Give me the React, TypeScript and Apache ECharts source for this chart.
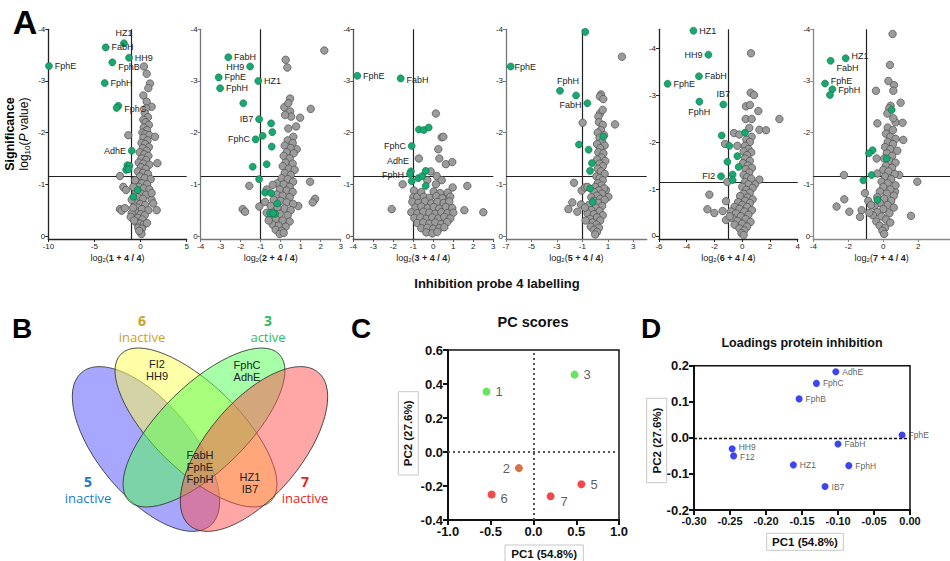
import React, { useEffect, useRef } from "react";
import * as echarts from "echarts";

const FONT = "'Liberation Sans', Arial, sans-serif";

// ---------- Panel A data (log2 ratio, log10 P) ----------
const probes = ["1", "2", "3", "5", "6", "7"];
const thresholds = [-1.15, -1.15, -1.15, -1.16, -1.15, -1.15];
const cutoffX = -1;

const xTicks1 = [-10, -5, 0, 5];
const xTicks2 = [-4, -3, -2, -1, 0, 1, 2, 3];
const xTicks3 = [-4, -3, -2, -1, 0, 1, 2, 3];
const xTicks4 = [-7, -5, -3, -1, 1, 3];
const xTicks5 = [-6, -4, -2, 0, 2, 4];
const xTicks6 = [-4, -2, 0, 2];
const yTicks = [-4, -3, -2, -1, 0];

const gray1 = [
  [0.37,-3.28],[0.66,-3.14],[1.02,-2.95],[0.84,-2.86],[0.3,-2.72],[0.66,-2.6],[1.2,-2.5],[0.6,-2.47],[0.45,-2.38],[0.8,-2.3],[0.3,-2.25],[0.55,-2.2],[0.9,-2.15],[0.35,-2.1],[0.7,-2.05],[0.2,-2.0],[0.5,-1.97],[0.95,-1.95],[0.3,-1.9],[0.75,-1.85],[0.1,-1.8],[0.5,-1.78],[0.9,-1.72],[0.25,-1.7],[0.65,-1.65],[-0.1,-1.62],[0.4,-1.58],[0.85,-1.55],[0.1,-1.5],[0.6,-1.47],[-0.2,-1.42],[0.3,-1.4],[0.95,-1.38],[0.05,-1.33],[0.55,-1.3],[-0.3,-1.25],[0.25,-1.22],[0.8,-1.2],[-0.05,-1.15],[0.45,-1.12],[1.1,-1.1],[-0.4,-1.05],[0.15,-1.02],[0.7,-1.0],[-0.2,-0.95],[0.35,-0.92],[0.95,-0.9],[-0.5,-0.85],[0.05,-0.82],[0.6,-0.8],[-0.3,-0.75],[0.25,-0.72],[1.2,-0.7],[-0.6,-0.65],[-0.05,-0.62],[0.5,-0.6],[-0.35,-0.55],[0.15,-0.52],[0.85,-0.5],[-0.55,-0.45],[0.0,-0.42],[0.45,-0.4],[-0.3,-0.35],[0.2,-0.32],[-0.45,-0.26],[-0.1,-0.24],[0.35,-0.22],[-0.25,-0.16],[0.15,-0.14],[-0.05,-0.08],[0.1,-0.04],[-0.15,-0.1],
  [-1.33,-1.95],[1.56,-1.92],[1.82,-1.41],[-2.23,-1.16],[-1.87,-0.95],[-1.57,-0.89],[-2.23,-0.52],[-2.05,-0.49],[-1.7,-0.54],[-0.96,-0.7],[-0.78,-0.95],[-0.6,-1.08],[1.75,-0.5],[1.38,-0.63],[1.2,-0.83],[-0.96,-0.44],[-1.07,-0.37],[-0.7,-0.3],[0.7,-0.25],[-0.8,-0.55]
];
const hits1: [number, number, string][] = [
  [-9.93,-3.29,"FphE"],[-3.78,-3.65,"FabH"],[-1.8,-3.73,"HZ1"],[-1.25,-3.45,"HH9"],[-3.06,-3.36,"FphB"],[-3.89,-2.96,"FphH"],[-2.41,-2.52,"FphC"],[-2.59,-2.48,""],[-0.96,-1.65,"AdhE"],[-1.43,-1.37,""],[-1.2,-1.36,""],[-1.57,-1.28,""],[-1.3,-1.29,""],[-0.31,-0.89,""],[-0.78,-0.76,""]
];

const gray2 = [
  [2.18,-3.59],[0.25,-3.41],[0.33,-3.26],[0.47,-2.66],[0.18,-2.49],[0.38,-2.57],[1.5,-2.46],[0.97,-2.29],[0.77,-2.12],[0.47,-2.41],[0.52,-2.31],[0.22,-2.34],[0.38,-2.08],[0.63,-1.92],[0.8,-1.68],[1.47,-1.05],[1.72,-0.72],[1.6,-0.65],[0.88,-0.58],[-1.57,-0.97],[-1.9,-0.52],[-1.78,-0.47],[-1.07,-0.57],[-0.7,-0.9],[-0.17,-1.02],[-0.4,-0.99],[-0.78,-0.66],
  [0.35,-1.85],[0.6,-1.8],[0.2,-1.75],[0.5,-1.7],[0.3,-1.62],[0.65,-1.6],[0.15,-1.55],[0.45,-1.5],[0.25,-1.42],[0.6,-1.4],[0.1,-1.35],[0.4,-1.3],[0.7,-1.28],[0.2,-1.22],[0.5,-1.18],[0.05,-1.12],[0.35,-1.1],[0.62,-1.05],[0.15,-1.0],[0.45,-0.95],[-0.05,-0.9],[0.3,-0.88],[0.6,-0.85],[-0.2,-0.8],[0.1,-0.78],[0.45,-0.75],[-0.35,-0.7],[0.0,-0.68],[0.3,-0.65],[0.62,-0.62],[-0.5,-0.58],[-0.15,-0.55],[0.2,-0.53],[0.5,-0.5],[-0.4,-0.45],[-0.05,-0.43],[0.35,-0.4],[-0.55,-0.35],[-0.25,-0.33],[0.1,-0.3],[0.45,-0.28],[-0.4,-0.22],[-0.1,-0.2],[0.25,-0.18],[-0.25,-0.12],[0.05,-0.1],[-0.05,-0.04],[0.15,-0.06],[-0.6,-0.3],[-0.7,-0.45]
];
const hits2: [number, number, string][] = [
  [-2.62,-3.46,"FabH"],[-1.53,-3.28,"HH9"],[-3.1,-3.07,"FphE"],[-1.12,-3.0,"HZ1"],[-3.03,-2.86,"FphH"],[-1.87,-2.57,""],[-1.08,-2.26,"IB7"],[-0.48,-2.18,""],[-0.42,-2.01,""],[-0.9,-1.94,""],[-1.25,-1.87,"FphC"],[-0.45,-1.73,""],[-0.7,-1.39,""],[-1.4,-1.34,""],[-1.08,-1.1,""],[-0.78,-0.84,""],[-0.48,-0.83,""],[-0.17,-0.63,""],[-0.53,-0.44,""],[-0.28,-0.43,""],[-0.37,-0.44,""]
];

const gray3 = [
  [0.13,-2.37],[0.42,-1.91],[0.5,-1.92],[0.25,-1.68],[0.3,-1.5],[-0.72,-1.5],[0.63,-1.39],[0.95,-1.43],[-0.13,-1.25],[0.17,-1.16],[-1.53,-1.0],[1.7,-0.97],[1.55,-0.5],[2.5,-0.46],[-2.08,-0.52],[0.42,-1.08],[0.97,-0.94],[0.72,-0.79],[-0.97,-0.88],[-1.0,-0.75],[-0.8,-0.76],[-0.3,-1.08],[0.13,-1.0],
  [-0.6,-0.85],[0.02,-0.86],[0.35,-0.83],[0.72,-0.84],[-0.48,-0.76],[-0.18,-0.74],[0.15,-0.77],[0.45,-0.73],[0.85,-0.76],[-1.05,-0.66],[-0.74,-0.64],[-0.42,-0.67],[-0.1,-0.63],[0.2,-0.66],[0.52,-0.64],[0.8,-0.67],[-0.9,-0.55],[-0.6,-0.57],[-0.28,-0.54],[0.02,-0.56],[0.3,-0.53],[0.62,-0.56],[0.95,-0.54],[-1.1,-0.46],[-0.8,-0.44],[-0.5,-0.47],[-0.2,-0.45],[0.1,-0.43],[0.4,-0.46],[0.7,-0.44],[1.0,-0.45],[-0.95,-0.35],[-0.65,-0.36],[-0.35,-0.33],[-0.05,-0.36],[0.25,-0.34],[0.55,-0.37],[0.85,-0.34],[-0.8,-0.25],[-0.5,-0.26],[-0.2,-0.24],[0.1,-0.26],[0.4,-0.23],[0.7,-0.27],[-0.6,-0.15],[-0.3,-0.16],[0.0,-0.14],[0.3,-0.15],[0.55,-0.17],[-0.35,-0.07],[-0.05,-0.05],[0.2,-0.08]
];
const hits3: [number, number, string][] = [
  [-3.8,-3.1,"FphE"],[-1.63,-3.05,"FabH"],[-0.72,-2.06,""],[-0.47,-2.05,""],[-0.23,-2.1,""],[-1.08,-1.74,"FphC"],[-1.12,-1.25,"AdhE"],[-1.17,-1.2,"FphH"],[-1.08,-1.06,""],[-0.75,-1.12,""],[-0.55,-1.16,""],[-0.38,-1.26,""],[-0.38,-0.97,""]
];

const gray4 = [
  [2.11,-3.47],[0.46,-2.74],[0.38,-2.7],[0.64,-2.65],[1.56,-2.16],[-0.98,-2.19],[0.38,-2.37],[0.59,-2.44],[0.25,-2.31],[-1.66,-1.03],[-1.79,-0.65],[-2.1,-0.52],[-1.4,-0.47],[-1.11,-0.61],[-1.06,-0.88],[-0.8,-0.94],[-0.61,-0.95],[1.04,-0.76],[0.85,-0.89],
  [0.3,-2.2],[0.6,-2.15],[0.45,-2.05],[0.2,-2.0],[0.7,-1.95],[0.35,-1.9],[0.55,-1.82],[0.15,-1.78],[0.75,-1.75],[0.4,-1.7],[0.25,-1.62],[0.65,-1.6],[0.5,-1.52],[0.15,-1.48],[0.8,-1.45],[0.35,-1.4],[0.6,-1.35],[0.2,-1.3],[0.45,-1.25],[0.75,-1.2],[0.1,-1.15],[0.35,-1.12],[0.6,-1.08],[0.2,-1.02],[0.5,-0.98],[0.0,-0.95],[0.7,-0.92],[0.3,-0.88],[-0.1,-0.85],[0.55,-0.82],[0.15,-0.78],[-0.3,-0.75],[0.4,-0.72],[0.75,-0.7],[-0.1,-0.68],[0.25,-0.64],[-0.5,-0.6],[0.55,-0.58],[0.05,-0.55],[-0.3,-0.5],[0.35,-0.48],[-0.6,-0.44],[-0.1,-0.42],[0.6,-0.4],[0.15,-0.36],[-0.4,-0.33],[0.4,-0.3],[-0.2,-0.26],[0.1,-0.22],[-0.35,-0.18],[0.3,-0.16],[-0.1,-0.12],[0.15,-0.08],[0.0,-0.03],[-0.8,-0.55],[-0.75,-0.3]
];
const hits4: [number, number, string][] = [
  [-0.77,-3.95,""],[-6.63,-3.28,"FphE"],[-2.76,-2.81,"FphH"],[-1.5,-2.72,""],[-0.61,-2.57,"FabH"],[0.64,-1.92,""],[-1.27,-1.77,""],[-0.51,-1.67,""],[-0.25,-1.41,""],[-0.4,-1.26,""],[-0.4,-0.92,""],[-0.19,-0.66,""]
];

const gray5 = [
  [0.63,-3.89],[0.61,-3.05],[0.85,-3.0],[0.27,-2.76],[0.56,-2.79],[1.16,-2.66],[2.68,-2.49],[0.25,-2.49],[0.68,-2.49],[0.51,-2.3],[1.24,-2.26],[1.72,-2.25],[-0.59,-2.19],[-0.21,-2.16],[-1.24,-1.96],[-0.35,-1.92],[0.68,-2.11],[1.24,-1.2],[0.92,-1.1],[-1.07,-1.15],[-2.37,-0.88],[-2.51,-0.57],[-2.01,-0.49],[-1.41,-0.53],[-1.17,-0.74],[-1.17,-0.34],
  [0.3,-2.05],[0.55,-2.0],[0.2,-1.92],[0.45,-1.85],[0.1,-1.8],[0.65,-1.78],[0.35,-1.72],[0.2,-1.65],[0.55,-1.6],[0.05,-1.55],[0.4,-1.5],[0.7,-1.45],[0.25,-1.42],[0.5,-1.35],[0.1,-1.3],[0.35,-1.25],[0.65,-1.22],[0.2,-1.15],[0.45,-1.1],[0.0,-1.05],[0.75,-1.02],[0.3,-0.98],[0.55,-0.92],[0.1,-0.9],[-0.15,-0.85],[0.4,-0.82],[0.75,-0.78],[0.2,-0.75],[-0.3,-0.72],[0.55,-0.7],[0.0,-0.66],[-0.55,-0.62],[0.35,-0.62],[-0.2,-0.58],[0.7,-0.55],[0.15,-0.52],[-0.8,-0.52],[-0.45,-0.48],[0.45,-0.45],[-0.1,-0.42],[-0.7,-0.38],[0.25,-0.36],[-0.35,-0.32],[0.6,-0.3],[0.0,-0.26],[-0.55,-0.24],[0.35,-0.2],[-0.2,-0.16],[0.15,-0.12],[-0.05,-0.06],[0.1,-0.02],[-0.9,-0.42]
];
const hits5: [number, number, string][] = [
  [-3.52,-4.37,"HZ1"],[-2.44,-3.86,"HH9"],[-3.12,-3.4,"FabH"],[-5.38,-3.24,"FphE"],[-3.09,-2.86,"FphH"],[-1.36,-2.8,"IB7"],[-1.48,-2.14,""],[0.2,-2.2,""],[-0.93,-1.92,""],[-1.07,-1.58,""],[-0.35,-1.7,""],[-1.53,-1.27,"FI2"],[-0.26,-1.47,""],[-0.69,-1.31,""],[-0.69,-1.19,""]
];

const gray6 = [
  [0.53,-3.91],[0.38,-3.31],[0.29,-3.0],[0.61,-2.92],[-0.42,-2.81],[0.57,-2.81],[0.99,-2.58],[0.42,-2.52],[0.34,-2.47],[-0.34,-2.18],[0.7,-2.2],[1.1,-2.19],[1.14,-1.86],[0.23,-2.37],[0.57,-2.28],[-0.38,-1.5],[-0.34,-1.21],[0.91,-1.18],[-2.25,-1.18],[1.94,-1.05],[-2.23,-0.71],[-2.67,-0.57],[-1.94,-0.47],[-1.24,-0.5],[-1.33,-0.37],[-1.05,-0.83],[-0.86,-0.68],[1.58,-0.39],[0.67,-0.86],
  [0.25,-2.1],[0.55,-2.05],[0.15,-1.98],[0.4,-1.92],[0.7,-1.88],[0.25,-1.82],[0.55,-1.78],[0.1,-1.72],[0.4,-1.68],[0.8,-1.65],[0.2,-1.6],[0.5,-1.55],[0.05,-1.5],[0.35,-1.45],[0.7,-1.42],[0.15,-1.36],[0.5,-1.32],[0.0,-1.28],[0.3,-1.25],[0.65,-1.2],[0.1,-1.15],[0.45,-1.1],[-0.1,-1.05],[0.25,-1.02],[0.7,-0.98],[0.0,-0.95],[0.4,-0.9],[-0.2,-0.86],[0.2,-0.82],[0.6,-0.78],[-0.35,-0.75],[0.05,-0.72],[0.45,-0.68],[-0.2,-0.64],[0.25,-0.6],[-0.5,-0.58],[0.6,-0.55],[0.0,-0.52],[-0.35,-0.46],[0.35,-0.44],[-0.6,-0.4],[-0.1,-0.38],[0.15,-0.32],[-0.4,-0.28],[0.4,-0.26],[-0.2,-0.2],[0.1,-0.16],[-0.05,-0.1],[0.05,-0.04],[-0.7,-0.6],[-0.8,-0.45]
];
const hits6: [number, number, string][] = [
  [-2.15,-3.44,"HZ1"],[-3.01,-3.39,"FabH"],[-3.33,-2.95,"FphE"],[-2.91,-2.84,"FphH"],[-3.05,-2.73,""],[-0.61,-1.66,""],[-0.82,-1.6,""],[-0.67,-1.18,""],[-1.14,-1.08,""],[0.19,-1.5,""],[-0.34,-0.7,""],[0.48,-2.44,""]
];

// ---------- Panel C data ----------
const pcNames = ["1", "2", "3", "5", "6", "7"];
const pcX = [-0.55, -0.17, 0.48, 0.56, -0.49, 0.2];
const pcY = [0.355, -0.095, 0.455, -0.19, -0.25, -0.26];
const pcClass = ["active", "partial", "active", "inactive", "inactive", "inactive"];

// ---------- Panel D data ----------
const loadNames = ["AdhE", "FphC", "FphB", "FphE", "FabH", "HH9", "F12", "HZ1", "FphH", "IB7"];
const loadX = [-0.103, -0.13, -0.154, -0.011, -0.1, -0.247, -0.245, -0.162, -0.085, -0.118];
const loadY = [0.183, 0.151, 0.108, 0.008, -0.017, -0.03, -0.05, -0.075, -0.077, -0.135];

// ---------- Panel B (Venn) texts ----------
const vennSets = [
  { id: "6", state: "inactive" },
  { id: "3", state: "active" },
  { id: "5", state: "inactive" },
  { id: "7", state: "inactive" },
];
const vennRegions = [
  ["FI2", "HH9"],
  ["FphC", "AdhE"],
  ["FabH", "FphE", "FphH"],
  ["HZ1", "IB7"],
];

// ---------- styles / layout ----------
const grays = [gray1, gray2, gray3, gray4, gray5, gray6];
const hits = [hits1, hits2, hits3, hits4, hits5, hits6];
const xTickSets = [xTicks1, xTicks2, xTicks3, xTicks4, xTicks5, xTicks6];
const volcanoLayout = [
  { left: 48.3, width: 138.4, xMin: -10, xMax: 5, yMin: -4, yMax: 0.058, axis: "#222" },
  { left: 200.7, width: 140, xMin: -4, xMax: 3, yMin: -4, yMax: 0.058, axis: "#777" },
  { left: 353.3, width: 140, xMin: -4, xMax: 3, yMin: -4, yMax: 0.058, axis: "#555" },
  { left: 506, width: 140.7, xMin: -7, xMax: 4.05, yMin: -4, yMax: 0.058, axis: "#777" },
  { left: 659, width: 138.7, xMin: -6, xMax: 4, yMin: -4.4, yMax: 0.064, axis: "#222" },
  { left: 813.3, width: 136.7, xMin: -4, xMax: 3.81, yMin: -4, yMax: 0.058, axis: "#888" },
];
const labelPlace: Record<string, [string, number, number]>[] = [
  { FphE: ["right", 0, 0], FabH: ["right", 0, 0], HZ1: ["top", 0, 0], HH9: ["right", 0, 0], FphB: ["right", 0, 5], FphH: ["right", 0, 0], FphC: ["right", 0, 3], AdhE: ["left", 0, 0] },
  { FabH: ["right", 0, 0], HH9: ["left", 0, 0], FphE: ["right", 0, 0], HZ1: ["right", 0, 0], FphH: ["right", 0, 0], IB7: ["left", 0, 0], FphC: ["left", 0, 0] },
  { FphE: ["right", 0, 0], FabH: ["right", 0, 2], FphC: ["left", 0, 0], AdhE: ["left", 4, -10], FphH: ["left", 0, 1] },
  { FphE: ["right", -2, 0], FphH: ["top", 8, 1], FabH: ["left", 0, 2] },
  { HZ1: ["right", 0, 0], HH9: ["left", 0, 0], FabH: ["right", 0, 0], FphE: ["right", 0, 0], FphH: ["bottom", 0, 0], IB7: ["top", 0, 0], FI2: ["left", 0, 0] },
  { HZ1: ["right", 0, -2], FabH: ["right", 0, 7], FphE: ["right", 0, -3], FphH: ["right", 0, 1] },
];
const pcColors: Record<string, string> = { active: "#3fe03a", partial: "#c8501c", inactive: "#ee1c1c" };
const pcLabelPlace: Record<string, [string, number, number]> = {
  "1": ["right", 0, 0], "2": ["left", 0, 0], "3": ["right", 0, 0], "5": ["right", 0, 0], "6": ["right", 0, 4], "7": ["right", 1, 5],
};
const loadLabelDy: Record<string, number> = { HH9: -1.5, F12: 1.5 };
const vennColors = ["#c9a227", "#2dbd5a", "#1a7acc", "#ee2020"];
const vennSetPos = [[142, 320], [268, 320], [88, 481], [305, 481]];
const vennRegionPos = [[157, 364], [247, 365], [200, 455], [250, 477]];

function txt(text: string, x: number, y: number, o: any = {}) {
  return {
    type: "text",
    x,
    y,
    rotation: o.rotation || 0,
    z: 100,
    silent: true,
    style: {
      text,
      fill: o.fill || "#111",
      fontSize: o.fontSize || 12,
      fontWeight: o.fontWeight || "normal",
      fontFamily: o.fontFamily || FONT,
      align: o.align || "center",
      verticalAlign: "middle",
      textAlign: o.align || "center",
      textVerticalAlign: "middle",
      rich: o.rich,
    },
  };
}

function buildOption() {
  const grid: any[] = [];
  const xAxis: any[] = [];
  const yAxis: any[] = [];
  const series: any[] = [];

  volcanoLayout.forEach((L, i) => {
    grid.push({ left: L.left, top: 29.3, width: L.width, height: 209.7, outerBoundsMode: "none", containLabel: false });
    xAxis.push({
      type: "value", gridIndex: i, min: L.xMin, max: L.xMax,
      axisLine: { show: true, onZero: false, lineStyle: { color: L.axis, width: 1.3 } },
      axisTick: { show: true, length: 3, customValues: xTickSets[i], lineStyle: { color: L.axis } },
      axisLabel: { customValues: xTickSets[i], fontSize: 8, margin: 3, color: "#222", fontFamily: FONT },
      splitLine: { show: false },
      name: `{n|log}{s|2}{n|(}{b|${probes[i]} + 4 / 4}{n|)}`,
      nameLocation: "middle", nameGap: 13,
      nameTextStyle: {
        fontFamily: FONT, color: "#222", fontSize: 9,
        rich: { n: { fontSize: 9, fontFamily: FONT }, s: { fontSize: 6, padding: [5, 0, 0, 0], fontFamily: FONT }, b: { fontSize: 9, fontWeight: "bold", fontFamily: FONT } },
      },
    });
    yAxis.push({
      type: "value", gridIndex: i, min: L.yMin, max: L.yMax, inverse: true,
      axisLine: { show: true, onZero: false, lineStyle: { color: L.axis, width: 1.3 } },
      axisTick: { show: true, length: 3, customValues: yTicks, lineStyle: { color: L.axis } },
      axisLabel: { customValues: yTicks, fontSize: 8, margin: 3, color: "#222", fontFamily: FONT },
      splitLine: { show: false },
    });
    series.push({
      type: "scatter", xAxisIndex: i, yAxisIndex: i, data: grays[i], symbolSize: 7.5, silent: true, z: 2,
      itemStyle: { color: "#9b9b9b", borderColor: "#4d4d4d", borderWidth: 0.7, opacity: 1 },
      markLine: {
        silent: true, symbol: ["none", "none"], label: { show: false }, z: 1,
        lineStyle: { color: "#222", width: 1.2, type: "solid" },
        data: [{ yAxis: thresholds[i] }, { xAxis: cutoffX }],
      },
    });
    series.push({
      type: "scatter", xAxisIndex: i, yAxisIndex: i, symbolSize: 7, silent: true, z: 3,
      itemStyle: { color: "#19a872", borderColor: "#0b6e47", borderWidth: 0.6, opacity: 1 },
      data: hits[i].map(([x, y, n]) => {
        const p = labelPlace[i][n] || ["right", 0, 0];
        return {
          value: [x, y], name: n,
          label: { show: n !== "", position: p[0], offset: [p[1], p[2]], distance: 2, formatter: n, fontSize: 9, color: "#222", fontFamily: FONT },
        };
      }),
    });
  });

  // Panel C
  const gC = grid.length;
  grid.push({ left: 448, top: 350, width: 171, height: 170, show: true, borderColor: "#111", borderWidth: 1.5, outerBoundsMode: "none", containLabel: false });
  xAxis.push({
    type: "value", gridIndex: gC, min: -1, max: 1, interval: 0.5,
    axisLine: { onZero: false, lineStyle: { color: "#111", width: 2 } },
    axisTick: { length: 5, lineStyle: { color: "#111", width: 2 } },
    axisLabel: { formatter: (v: number) => v.toFixed(1), fontSize: 13, fontWeight: "bold", color: "#111", fontFamily: FONT, margin: 5 },
    splitLine: { show: false },
  });
  yAxis.push({
    type: "value", gridIndex: gC, min: -0.4, max: 0.6, interval: 0.2,
    axisLine: { onZero: false, lineStyle: { color: "#111", width: 2 } },
    axisTick: { length: 5, lineStyle: { color: "#111", width: 2 } },
    axisLabel: { formatter: (v: number) => v.toFixed(1), fontSize: 13, fontWeight: "bold", color: "#111", fontFamily: FONT, margin: 5 },
    splitLine: { show: false },
  });
  series.push({
    type: "scatter", xAxisIndex: gC, yAxisIndex: gC, symbolSize: 8, silent: true,
    data: pcNames.map((n, k) => {
      const p = pcLabelPlace[n];
      return {
        value: [pcX[k], pcY[k]], name: n,
        itemStyle: { color: pcColors[pcClass[k]] },
        label: { show: true, position: p[0], offset: [p[1], p[2]], distance: 5, formatter: n, fontSize: 13, color: "#333", fontFamily: FONT },
      };
    }),
    markLine: {
      silent: true, symbol: ["none", "none"], label: { show: false },
      lineStyle: { color: "#555", width: 2, type: [2, 3] },
      data: [{ xAxis: 0 }, { yAxis: 0 }],
    },
  });

  // Panel D
  const gD = grid.length;
  grid.push({ left: 694, top: 365.7, width: 216, height: 144.3, show: true, borderColor: "#111", borderWidth: 1.5, outerBoundsMode: "none", containLabel: false });
  xAxis.push({
    type: "value", gridIndex: gD, min: -0.3, max: 0, interval: 0.05,
    axisLine: { onZero: false, lineStyle: { color: "#111", width: 2 } },
    axisTick: { length: 5, lineStyle: { color: "#111", width: 2 } },
    axisLabel: { formatter: (v: number) => v.toFixed(2), fontSize: 11, fontWeight: "bold", color: "#111", fontFamily: FONT, margin: 5 },
    splitLine: { show: false },
  });
  yAxis.push({
    type: "value", gridIndex: gD, min: -0.2, max: 0.2, interval: 0.1,
    axisLine: { onZero: false, lineStyle: { color: "#111", width: 2 } },
    axisTick: { length: 5, lineStyle: { color: "#111", width: 2 } },
    axisLabel: { formatter: (v: number) => v.toFixed(1), fontSize: 13, fontWeight: "bold", color: "#111", fontFamily: FONT, margin: 5 },
    splitLine: { show: false },
  });
  series.push({
    type: "scatter", xAxisIndex: gD, yAxisIndex: gD, symbolSize: 7, silent: true,
    itemStyle: { color: "#0b16ee" },
    data: loadNames.map((n, k) => ({
      value: [loadX[k], loadY[k]], name: n,
      label: { show: true, position: "right", distance: 3, offset: [0, loadLabelDy[n] || 0], formatter: n, fontSize: 8.5, color: "#333", fontFamily: FONT },
    })),
    markLine: {
      silent: true, symbol: ["none", "none"], label: { show: false },
      lineStyle: { color: "#111", width: 1.3, type: [3, 2] },
      data: [{ yAxis: 0 }],
    },
  });

  // Graphics: Venn ellipses (rotation: positive = anticlockwise)
  const graphic: any[] = [];
  const deg = Math.PI / 180;
  const ellipses = [
    { cx: 146, cy: 449, rx: 100, ry: 47, rot: -50 * deg, fill: "rgba(80,80,255,0.5)" },
    { cx: 196, cy: 427.5, rx: 105, ry: 43, rot: -44.25 * deg, fill: "rgba(255,255,80,0.5)" },
    { cx: 204, cy: 427.5, rx: 105, ry: 43, rot: 44.25 * deg, fill: "rgba(80,255,80,0.5)" },
    { cx: 254, cy: 449, rx: 100, ry: 47, rot: 50 * deg, fill: "rgba(255,80,80,0.5)" },
  ];
  ellipses.forEach((e) => {
    graphic.push({
      type: "ellipse", x: e.cx, y: e.cy, rotation: e.rot, silent: true, z: 10,
      shape: { cx: 0, cy: 0, rx: e.rx, ry: e.ry },
      style: { fill: e.fill, stroke: "#333", lineWidth: 0.8 },
    });
  });
  vennSets.forEach((s, k) => {
    const [x, y] = vennSetPos[k];
    graphic.push(txt(s.id, x, y, { fill: vennColors[k], fontSize: 14, fontWeight: "bold", fontFamily: "'Open Sans', sans-serif" }));
    graphic.push(txt(s.state, x, y + 17, { fill: vennColors[k], fontSize: 13, fontFamily: "'Open Sans', sans-serif" }));
  });
  vennRegions.forEach((lines, k) => {
    const [x, y] = vennRegionPos[k];
    lines.forEach((l, j) => graphic.push(txt(l, x, y + j * 12, { fontSize: 11, fill: "#222" })));
  });

  // panel letters and titles
  graphic.push(txt("A", 25, 22, { fontSize: 34, fontWeight: "bold", fill: "#000" }));
  graphic.push(txt("B", 22, 328, { fontSize: 28, fontWeight: "bold", fill: "#000" }));
  graphic.push(txt("C", 361, 328, { fontSize: 28, fontWeight: "bold", fill: "#000" }));
  graphic.push(txt("D", 651, 328, { fontSize: 28, fontWeight: "bold", fill: "#000" }));
  graphic.push(txt("Significance", 10, 134, { fontSize: 12.5, fontWeight: "bold", rotation: Math.PI / 2, fill: "#000" }));
  graphic.push(txt("{n|log}{s|10}{n|(}{i|P}{n| value)}", 24, 134, {
    fontSize: 12, rotation: Math.PI / 2, fill: "#000",
    rich: { n: { fontSize: 12, fontFamily: FONT }, s: { fontSize: 8, padding: [6, 0, 0, 0], fontFamily: FONT }, i: { fontSize: 12, fontStyle: "italic", fontFamily: FONT } },
  }));
  graphic.push(txt("Inhibition probe 4 labelling", 497, 283, { fontSize: 13, fontWeight: "bold", fill: "#111" }));
  graphic.push(txt("PC scores", 533, 322, { fontSize: 14.5, fontWeight: "bold", fill: "#111" }));
  graphic.push(txt("Loadings protein inhibition", 802, 343, { fontSize: 12.5, fontWeight: "bold", fill: "#111" }));

  // axis name boxes
  const boxes = [
    { x: 398.3, y: 391.7, w: 20, h: 83.3, t: "PC2 (27.6%)", rot: Math.PI / 2 },
    { x: 505, y: 545, w: 78.3, h: 20, t: "PC1 (54.8%)", rot: 0 },
    { x: 646.7, y: 398.3, w: 20, h: 84.4, t: "PC2 (27.6%)", rot: Math.PI / 2 },
    { x: 766.7, y: 533.3, w: 76.6, h: 17, t: "PC1 (54.8%)", rot: 0 },
  ];
  boxes.forEach((b) => {
    graphic.push({ type: "rect", silent: true, z: 90, shape: { x: b.x, y: b.y, width: b.w, height: b.h }, style: { fill: "#fff", stroke: "#c8c8c8", lineWidth: 1 } });
    graphic.push(txt(b.t, b.x + b.w / 2, b.y + (b.rot ? b.h / 2 : 9), { fontSize: 11.5, fontWeight: "bold", rotation: b.rot, fill: "#111" }));
  });

  return { animation: false, backgroundColor: "#fff", grid, xAxis, yAxis, series, graphic };
}

export default function App() {
  const ref = useRef<HTMLDivElement>(null);
  useEffect(() => {
    if (!ref.current) return;
    const chart = echarts.init(ref.current, undefined, { renderer: "svg" });
    chart.setOption(buildOption() as any);
    return () => chart.dispose();
  }, []);
  return <div ref={ref} style={{ position: "fixed", left: 0, top: 0, width: 950, height: 561, background: "#fff" }} />;
}
